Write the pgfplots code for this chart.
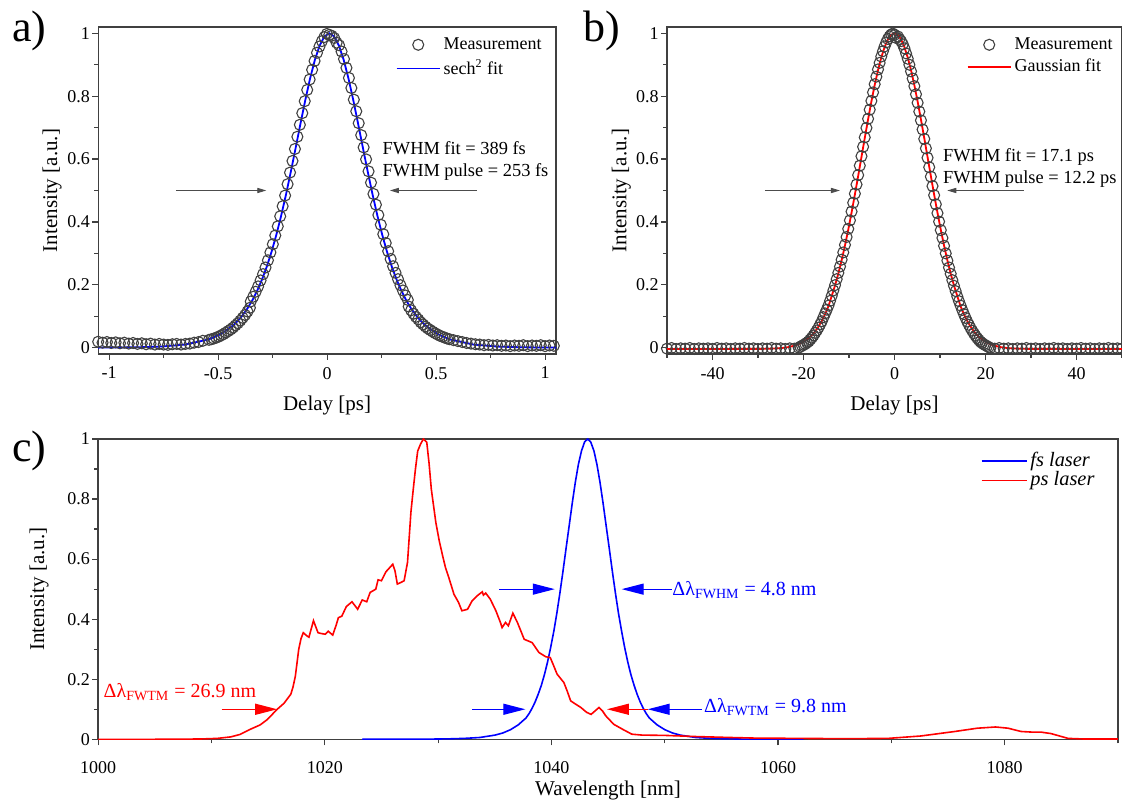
\documentclass[border=0pt]{standalone}
\usepackage{pgfplots}
\pgfplotsset{compat=1.18}
\usepackage{fontspec}
\setmainfont{Liberation Serif}
\usetikzlibrary{arrows.meta}
\definecolor{frame}{gray}{0.25}
\definecolor{circ}{gray}{0.25}
\pgfplotsset{
  myaxis/.style={
    scale only axis, anchor=south west,
    axis line style={draw=frame, line width=0.7pt},
    tick style={draw=frame, line width=0.6pt},
    tick align=outside, major tick length=3pt, minor tick length=2pt,
    xtick pos=left, ytick pos=left,
    ticklabel style={font=\fontsize{9}{10}\selectfont},
    yticklabel style={inner xsep=1pt},
    /pgf/number format/assume math mode=true,
    /pgf/number format/1000 sep={},
    label style={font=\fontsize{10.5}{12}\selectfont},
    legend style={draw=none, fill=none, font=\fontsize{9}{10}\selectfont,
      cells={anchor=west}, row sep=2.5pt, inner sep=0pt,
      nodes={inner xsep=1.5pt, inner ysep=0.5pt}},
  },
  meas/.style={only marks, mark=o, mark size=2.75pt, mark options={draw=circ, line width=0.55pt},
    legend image code/.code={\draw[##1] plot coordinates {(10.75pt,0pt)};}},
}
\begin{document}
\begin{tikzpicture}[x=1pt,y=1pt]
% ---------------- a) ----------------
\begin{axis}[myaxis, at={(49.1pt,224pt)}, width=228.9pt, height=163.5pt,
  xmin=-1.05, xmax=1.05, ymin=-0.02, ymax=1.02,
  xtick={-1,-0.5,0,0.5,1}, minor xtick={-0.75,-0.25,0.25,0.75},
  ytick={0,0.2,0.4,0.6,0.8,1}, minor ytick={0.1,0.3,0.5,0.7,0.9},
  xlabel={Delay [ps]}, ylabel={Intensity [a.u.]},
  xlabel style={at={(axis description cs:0.5,-0.156)}, anchor=center},
  ylabel style={at={(axis description cs:-0.1005,0.5)}, anchor=center},
  legend style={at={(1,1)}, anchor=north east, xshift=-5.5pt, yshift=-4.5pt},
]
\addplot[meas] coordinates {
(-1.05,0.019) (-1.03,0.016) (-1.01,0.018) (-0.99,0.015) (-0.97,0.017) (-0.95,0.014) (-0.93,0.016) (-0.91,0.013) (-0.89,0.015) (-0.87,0.012) (-0.85,0.014) (-0.83,0.011) (-0.81,0.013) (-0.79,0.010) (-0.77,0.012) (-0.75,0.010) (-0.73,0.009) (-0.71,0.011) (-0.69,0.012) (-0.67,0.010) (-0.65,0.012) (-0.63,0.013) (-0.61,0.016) (-0.59,0.018) (-0.57,0.022)
(-0.5418,0.025) (-0.5307,0.027) (-0.5197,0.029) (-0.5086,0.032) (-0.4976,0.035) (-0.4866,0.039) (-0.4755,0.043) (-0.4645,0.048) (-0.4535,0.053) (-0.4424,0.058) (-0.4314,0.064) (-0.4204,0.071) (-0.4093,0.078) (-0.3983,0.086) (-0.3873,0.095) (-0.3762,0.104) (-0.3652,0.115) (-0.3542,0.127) (-0.3502,0.147) (-0.3389,0.162) (-0.3277,0.178) (-0.3164,0.195) (-0.3052,0.214) (-0.2939,0.234) (-0.2826,0.255) (-0.2714,0.278) (-0.2601,0.303) (-0.2489,0.329) (-0.2377,0.357) (-0.2263,0.386) (-0.2151,0.418) (-0.2039,0.450) (-0.1926,0.484) (-0.1814,0.520) (-0.1701,0.557) (-0.1588,0.594) (-0.1476,0.632) (-0.1364,0.671) (-0.1250,0.709) (-0.1138,0.746) (-0.1026,0.784) (-0.0913,0.820) (-0.0801,0.853) (-0.0687,0.884) (-0.0575,0.912) (-0.0463,0.938) (-0.0350,0.958) (-0.0238,0.975) (-0.0125,0.988) (-0.0012,0.998) (0.0100,0.995)
(0.0212,0.992) (0.0325,0.985) (0.0438,0.970) (0.0550,0.962) (0.0663,0.942) (0.0775,0.918) (0.0887,0.890) (0.1001,0.858) (0.1113,0.826) (0.1226,0.789) (0.1338,0.752) (0.1450,0.714) (0.1564,0.676) (0.1676,0.637) (0.1788,0.599) (0.1901,0.561) (0.2014,0.525) (0.2126,0.489) (0.2239,0.455) (0.2351,0.422) (0.2463,0.391) (0.2577,0.361) (0.2689,0.333) (0.2801,0.307) (0.2914,0.282) (0.3026,0.259) (0.3139,0.238) (0.3252,0.218) (0.3364,0.199) (0.3477,0.182) (0.3589,0.166) (0.3702,0.152) (0.3742,0.131) (0.3852,0.119) (0.3962,0.108) (0.4073,0.098) (0.4183,0.090) (0.4293,0.081) (0.4404,0.074) (0.4514,0.067) (0.4624,0.061) (0.4735,0.056) (0.4845,0.051) (0.4955,0.046) (0.5066,0.042) (0.5176,0.038) (0.5286,0.035) (0.5397,0.032) (0.5507,0.029) (0.5618,0.027)
(0.58,0.024) (0.60,0.021) (0.62,0.018) (0.64,0.015) (0.66,0.013) (0.68,0.011) (0.70,0.010) (0.72,0.008) (0.74,0.009) (0.76,0.007) (0.78,0.008) (0.80,0.006) (0.82,0.007) (0.84,0.005) (0.86,0.007) (0.88,0.006) (0.90,0.008) (0.92,0.005) (0.94,0.007) (0.96,0.006) (0.98,0.008) (1.00,0.005) (1.02,0.007) (1.04,0.006)
};
\addlegendentry{Measurement}
\addplot[blue, line width=0.9pt, legend image code/.code={\draw[blue, line width=0.9pt] (0pt,0pt) -- (21.5pt,0pt);}] coordinates {
(-1.05,0.0003) (-0.8728,0.0013) (-0.7625,0.0036) (-0.6521,0.0099) (-0.5418,0.0266) (-0.4866,0.0435) (-0.4314,0.0707) (-0.4093,0.0856) (-0.3873,0.1036) (-0.3652,0.1250) (-0.3431,0.1505) (-0.3211,0.1807) (-0.2990,0.2162) (-0.2769,0.2574) (-0.2548,0.3050) (-0.2328,0.3592) (-0.2107,0.4200) (-0.1886,0.4869) (-0.1666,0.5591) (-0.1445,0.6347) (-0.1224,0.7116) (-0.1004,0.7864) (-0.0783,0.8556) (-0.0562,0.9151) (-0.0341,0.9610) (-0.0121,0.9901) (0.0100,1.0000)
(0.0321,0.9901) (0.0541,0.9610) (0.0762,0.9151) (0.0983,0.8556) (0.1204,0.7864) (0.1424,0.7116) (0.1645,0.6347) (0.1866,0.5591) (0.2086,0.4869) (0.2307,0.4200) (0.2528,0.3592) (0.2748,0.3050) (0.2969,0.2574) (0.3190,0.2162) (0.3411,0.1807) (0.3631,0.1505) (0.3852,0.1250) (0.4073,0.1036) (0.4293,0.0856) (0.4514,0.0707) (0.5066,0.0435) (0.5618,0.0266) (0.6721,0.0099) (0.7825,0.0036) (0.8928,0.0013) (1.05,0.0003)
};
\addlegendentry{sech\textsuperscript{2} fit}
\draw[black!70, line width=0.45pt, -{Triangle[length=4.5pt,width=2.6pt]}] (axis cs:-0.694,0.5) -- (axis cs:-0.279,0.5);
\draw[black!70, line width=0.45pt, -{Triangle[length=4.5pt,width=2.6pt]}] (axis cs:0.687,0.5) -- (axis cs:0.288,0.5);
\node[anchor=base west, inner sep=0pt, font=\fontsize{9.2}{10}\selectfont] at (axis cs:0.253,0.615) {FWHM fit = 389 fs};
\node[anchor=base west, inner sep=0pt, font=\fontsize{9.2}{10}\selectfont] at (axis cs:0.253,0.545) {FWHM pulse = 253 fs};
\end{axis}
% ---------------- b) ----------------
\begin{axis}[myaxis, at={(333.5pt,224pt)}, width=227.5pt, height=163.5pt,
  xmin=-50, xmax=50, ymin=-0.02, ymax=1.02,
  xtick={-40,-20,0,20,40}, minor xtick={-50,-30,-10,10,30,50},
  ytick={0,0.2,0.4,0.6,0.8,1}, minor ytick={0.1,0.3,0.5,0.7,0.9},
  xlabel={Delay [ps]}, ylabel={Intensity [a.u.]},
  xlabel style={at={(axis description cs:0.5,-0.156)}, anchor=center},
  ylabel style={at={(axis description cs:-0.1005,0.5)}, anchor=center},
  legend style={at={(1,1)}, anchor=north east, xshift=-3pt, yshift=-4.5pt},
]
\addplot[meas] coordinates {
(-50,-0.003) (-49,-0.001) (-48,-0.004) (-47,-0.002) (-46,-0.003) (-45,-0.001) (-44,-0.004) (-43,-0.002) (-42,-0.003) (-41,-0.002) (-40,-0.004) (-39,-0.001) (-38,-0.003) (-37,-0.002) (-36,-0.004) (-35,-0.002) (-34,-0.003) (-33,-0.001) (-32,-0.003) (-31,-0.002) (-30,-0.004) (-29,-0.002) (-28,-0.003) (-27,-0.001) (-26,-0.003) (-25,-0.002) (-24,-0.004) (-23,-0.002) (-22,-0.003)
(-21.06,0.000) (-20.70,0.003) (-20.33,0.006) (-19.97,0.009) (-19.61,0.012) (-19.24,0.016) (-18.88,0.020) (-18.52,0.026) (-18.16,0.032) (-17.79,0.039) (-17.43,0.047) (-17.07,0.055) (-16.70,0.064) (-16.34,0.074) (-15.98,0.084) (-15.61,0.097) (-15.25,0.109) (-14.89,0.121) (-14.52,0.134) (-14.16,0.149) (-13.80,0.165) (-13.44,0.182) (-13.07,0.199) (-12.71,0.218) (-12.35,0.238) (-11.98,0.258) (-11.62,0.280) (-11.26,0.303) (-10.89,0.327) (-10.53,0.352) (-10.17,0.378) (-9.80,0.405) (-9.44,0.433) (-9.08,0.461) (-8.71,0.490) (-8.35,0.519) (-7.99,0.549) (-7.63,0.579) (-7.26,0.609) (-6.90,0.639) (-6.54,0.669) (-6.17,0.699) (-5.81,0.728) (-5.45,0.757) (-5.08,0.785) (-4.72,0.812) (-4.36,0.838) (-3.99,0.862) (-3.63,0.885) (-3.27,0.906) (-2.91,0.926) (-2.54,0.943) (-2.18,0.958) (-1.82,0.971) (-1.45,0.982) (-1.09,0.990) (-0.73,0.996) (-0.36,0.999) (0.00,0.995)
(0.36,0.985) (0.73,0.990) (1.09,0.982) (1.45,0.975) (1.82,0.965) (2.18,0.952) (2.54,0.936) (2.91,0.919) (3.27,0.900) (3.63,0.879) (3.99,0.856) (4.36,0.832) (4.72,0.806) (5.08,0.779) (5.45,0.751) (5.81,0.723) (6.17,0.694) (6.54,0.664) (6.90,0.634) (7.26,0.604) (7.63,0.574) (7.99,0.544) (8.35,0.514) (8.71,0.485) (9.08,0.456) (9.44,0.428) (9.80,0.401) (10.17,0.374) (10.53,0.349) (10.89,0.324) (11.26,0.300) (11.62,0.277) (11.98,0.255) (12.35,0.235) (12.71,0.215) (13.07,0.197) (13.44,0.180) (13.80,0.163) (14.16,0.148) (14.52,0.134) (14.89,0.120) (15.25,0.107) (15.61,0.095) (15.98,0.083) (16.34,0.073) (16.70,0.063) (17.07,0.054) (17.43,0.046) (17.79,0.038) (18.16,0.031) (18.52,0.025) (18.88,0.019) (19.24,0.015) (19.61,0.011) (19.97,0.008) (20.33,0.005) (20.70,0.002) (21.06,-0.001)
(22,-0.003) (23,-0.001) (24,-0.003) (25,-0.002) (26,-0.004) (27,-0.002) (28,-0.003) (29,-0.001) (30,-0.003) (31,-0.002) (32,-0.004) (33,-0.002) (34,-0.003) (35,-0.001) (36,-0.003) (37,-0.002) (38,-0.004) (39,-0.002) (40,-0.003) (41,-0.001) (42,-0.003) (43,-0.002) (44,-0.004) (45,-0.002) (46,-0.003) (47,-0.001) (48,-0.003) (49,-0.002) (50,-0.003)
};
\addlegendentry{Measurement}
\addplot[red, line width=0.9pt, legend image code/.code={\draw[red, line width=0.9pt] (0pt,0pt) -- (21.5pt,0pt);}] coordinates {
(-50,-0.004) (-29.048,-0.0037) (-26.143,-0.0025) (-24.691,-0.0009) (-23.238,0.0020) (-21.786,0.0071) (-20.334,0.0159) (-19.607,0.0222) (-18.881,0.0301) (-18.155,0.0401) (-17.429,0.0523) (-16.703,0.0673) (-15.976,0.0853) (-15.250,0.1067) (-14.524,0.1318) (-13.798,0.1645) (-13.072,0.1979) (-12.345,0.2357) (-11.619,0.2780) (-10.893,0.3247) (-10.167,0.3753) (-9.441,0.4296) (-8.714,0.4868) (-7.988,0.5461) (-7.262,0.6065) (-6.536,0.6670) (-5.810,0.7261) (-5.083,0.7827) (-4.357,0.8353) (-3.631,0.8825) (-2.905,0.9231) (-2.179,0.9560) (-1.452,0.9802) (-0.726,0.9950) (0,1.0)
(0.726,0.9950) (1.452,0.9802) (2.179,0.9560) (2.905,0.9231) (3.631,0.8825) (4.357,0.8353) (5.083,0.7827) (5.810,0.7261) (6.536,0.6670) (7.262,0.6065) (7.988,0.5461) (8.714,0.4868) (9.441,0.4296) (10.167,0.3753) (10.893,0.3247) (11.619,0.2780) (12.345,0.2357) (13.072,0.1979) (13.798,0.1645) (14.524,0.1318) (15.250,0.1067) (15.976,0.0853) (16.703,0.0673) (17.429,0.0523) (18.155,0.0401) (18.881,0.0301) (19.607,0.0222) (20.334,0.0159) (21.786,0.0071) (23.238,0.0020) (24.691,-0.0009) (26.143,-0.0025) (29.048,-0.0037) (50,-0.004)
};
\addlegendentry{Gaussian fit}
\draw[black!70, line width=0.45pt, -{Triangle[length=4.5pt,width=2.6pt]}] (axis cs:-28.5,0.5) -- (axis cs:-12.0,0.5);
\draw[black!70, line width=0.45pt, -{Triangle[length=4.5pt,width=2.6pt]}] (axis cs:28.4,0.5) -- (axis cs:11.6,0.5);
\node[anchor=base west, inner sep=0pt, font=\fontsize{9.2}{10}\selectfont] at (axis cs:10.6,0.592) {FWHM fit = 17.1 ps};
\node[anchor=base west, inner sep=0pt, font=\fontsize{9.2}{10}\selectfont] at (axis cs:10.6,0.523) {FWHM pulse = 12.2 ps};
\end{axis}
% ---------------- c) ----------------
\begin{axis}[myaxis, at={(49.1pt,31.35pt)}, width=509.85pt, height=150.15pt,
  xmin=1000, xmax=1090, ymin=0, ymax=1,
  xtick={1000,1020,1040,1060,1080}, minor xtick={1010,1030,1050,1070,1090},
  ytick={0,0.2,0.4,0.6,0.8,1}, minor ytick={0.1,0.3,0.5,0.7,0.9},
  xticklabel style={yshift=-4.5pt},
  xlabel={Wavelength [nm]}, ylabel={Intensity [a.u.]},
  xlabel style={at={(axis description cs:0.5,-0.169)}, anchor=center},
  ylabel style={at={(axis description cs:-0.058,0.5)}, anchor=center},
  legend style={at={(1,1)}, anchor=north east, xshift=-10pt, yshift=-6pt, row sep=0pt,
     font=\fontsize{10.2}{11}\selectfont},
]
\addplot[blue, line width=0.8pt, legend image code/.code={\draw[blue, line width=0.8pt] (0pt,0pt) -- (22.5pt,0pt);}] coordinates {
(1023.3,0) (1024.14,0.0001) (1026.86,0.0002) (1029.59,0.0008) (1030.95,0.0015) (1032.31,0.003) (1033.67,0.006) (1035.03,0.014) (1035.71,0.021) (1036.39,0.032) (1037.07,0.048) (1037.75,0.0707) (1038.03,0.0856) (1038.30,0.1036) (1038.57,0.1250) (1038.84,0.1505) (1039.12,0.1807) (1039.39,0.2162) (1039.66,0.2574) (1039.93,0.3050) (1040.21,0.3592) (1040.48,0.4200) (1040.75,0.4869) (1041.02,0.5591) (1041.29,0.6347) (1041.57,0.7116) (1041.84,0.7864) (1042.11,0.8556) (1042.38,0.9151) (1042.66,0.9610) (1042.93,0.9901) (1043.20,1.0)
(1043.47,0.9901) (1043.75,0.9610) (1044.02,0.9151) (1044.29,0.8556) (1044.56,0.7864) (1044.83,0.7116) (1045.11,0.6347) (1045.38,0.5591) (1045.65,0.4869) (1045.92,0.4200) (1046.20,0.3592) (1046.47,0.3050) (1046.74,0.2574) (1047.01,0.2162) (1047.29,0.1807) (1047.56,0.1505) (1047.83,0.1250) (1048.10,0.1036) (1048.37,0.0856) (1048.65,0.0707) (1049.33,0.048) (1050.01,0.032) (1050.69,0.021) (1051.37,0.014) (1052.73,0.006) (1054.09,0.003) (1055.45,0.0015) (1056.82,0.0008) (1059.54,0.0002) (1062.26,0)
};
\addlegendentry{\textit{fs laser}}
\addplot[red, line width=0.8pt, legend image code/.code={\draw[red, line width=0.8pt] (0pt,0pt) -- (22.5pt,0pt);}] coordinates {
(1000,0) (1005,0) (1009,0.001) (1010.5,0.003) (1011.7,0.008) (1012.5,0.016) (1013.4,0.033) (1014.3,0.048) (1014.9,0.065) (1015.8,0.10) (1016.4,0.12) (1017.0,0.15) (1017.2,0.175) (1017.4,0.21) (1017.7,0.30) (1017.9,0.335) (1018.1,0.355) (1018.4,0.345) (1018.6,0.34) (1019.0,0.395) (1019.4,0.355) (1019.7,0.352) (1020.05,0.35) (1020.3,0.36) (1020.7,0.347) (1021.0,0.38) (1021.2,0.405) (1021.5,0.41) (1021.9,0.442) (1022.4,0.458) (1022.9,0.433) (1023.3,0.464) (1023.7,0.458) (1024.0,0.489) (1024.5,0.50) (1024.7,0.531) (1025.0,0.528) (1025.4,0.558) (1026.0,0.583) (1026.2,0.56) (1026.4,0.517) (1026.7,0.522) (1027.0,0.528) (1027.3,0.589) (1027.6,0.756) (1027.8,0.83) (1028.0,0.90) (1028.2,0.96) (1028.45,0.983) (1028.7,1.0) (1029.0,0.989) (1029.2,0.92) (1029.4,0.833) (1029.8,0.722) (1030.1,0.661) (1030.4,0.611) (1030.65,0.572) (1030.9,0.544) (1031.4,0.483) (1031.8,0.456) (1032.1,0.428) (1032.6,0.433) (1033.0,0.461) (1033.45,0.478) (1033.9,0.491) (1034.0,0.48) (1034.2,0.487) (1034.6,0.467) (1035.1,0.428) (1035.5,0.389) (1035.65,0.372) (1035.95,0.389) (1036.2,0.378) (1036.6,0.42) (1037.0,0.389) (1037.6,0.333) (1038.3,0.322) (1038.9,0.289) (1039.5,0.275) (1039.9,0.272) (1040.2,0.245) (1040.5,0.217) (1041.1,0.189) (1041.4,0.16) (1041.7,0.128) (1042.1,0.118) (1042.6,0.106) (1043.1,0.09) (1043.5,0.083) (1043.9,0.096) (1044.2,0.106) (1044.5,0.095) (1044.8,0.078) (1045.5,0.05) (1046.3,0.033) (1047.1,0.017) (1048,0.014) (1050,0.013) (1052.9,0.009) (1055.8,0.006) (1058,0.004) (1062,0.003) (1066,0.002) (1069.7,0.003) (1072.6,0.011) (1075.6,0.026) (1077.6,0.037) (1079.2,0.041) (1080.3,0.037) (1081.45,0.026) (1082.4,0.024) (1083.2,0.024) (1084.1,0.019) (1085.6,0.003) (1087,0.001) (1090,0.001)
};
\addlegendentry{\textit{ps laser}}
\tikzset{bigarrow/.style={line width=0.6pt, -{Triangle[length=11pt,width=5.5pt]}}}
\draw[red, bigarrow] (axis cs:1010.9,0.10) -- (axis cs:1015.8,0.10);
\draw[blue, bigarrow] (axis cs:1035.4,0.5) -- (axis cs:1040.3,0.5);
\draw[blue, bigarrow] (axis cs:1033.0,0.1) -- (axis cs:1037.7,0.1);
\draw[blue, bigarrow] (axis cs:1050.6,0.5) -- (axis cs:1046.2,0.5);
\draw[red, bigarrow] (axis cs:1048.5,0.1) -- (axis cs:1044.9,0.1);
\draw[blue, bigarrow] (axis cs:1053.3,0.1) -- (axis cs:1048.5,0.1);
\node[red, anchor=base west, inner sep=0pt, font=\fontsize{10}{11}\selectfont] at (axis cs:1000.45,0.139) {Δλ\textsubscript{FWTM} = 26.9 nm};
\node[blue, anchor=base west, inner sep=0pt, font=\fontsize{10}{11}\selectfont] at (axis cs:1050.65,0.478) {Δλ\textsubscript{FWHM} = 4.8 nm};
\node[blue, anchor=base west, inner sep=0pt, font=\fontsize{10}{11}\selectfont] at (axis cs:1053.45,0.089) {Δλ\textsubscript{FWTM} = 9.8 nm};
\end{axis}
\node[anchor=base west, inner sep=0pt, font=\fontsize{22}{24}\selectfont] at (6pt,380pt) {a)};
\node[anchor=base west, inner sep=0pt, font=\fontsize{22}{24}\selectfont] at (291.5pt,380pt) {b)};
\node[anchor=base west, inner sep=0pt, font=\fontsize{22}{24}\selectfont] at (6pt,170.2pt) {c)};
\pgfresetboundingbox
\path[use as bounding box] (0,0) rectangle (561pt,401pt);
\end{tikzpicture}
\end{document}
